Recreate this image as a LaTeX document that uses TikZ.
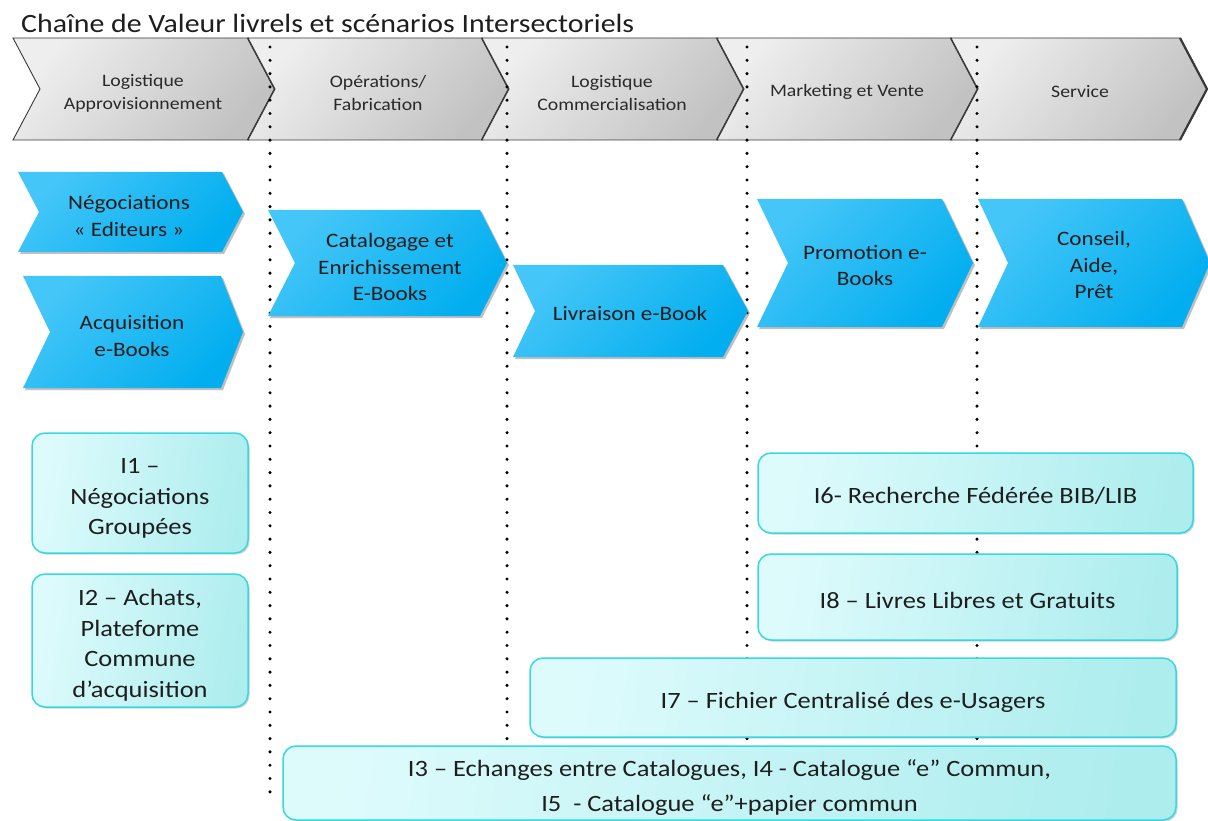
\documentclass[tikz,border=0pt]{standalone}
\usepackage{fontspec}
\setmainfont{Carlito}[FakeStretch=1.13]
\usetikzlibrary{shadows}
\definecolor{hdrL}{HTML}{EEEEEE}
\definecolor{hdrR}{HTML}{C2C2C2}
\definecolor{hdrD}{HTML}{383838}
\definecolor{blueL}{HTML}{45C6F8}
\definecolor{blueR}{HTML}{02AEEF}
\definecolor{cyL}{HTML}{DEFBFC}
\definecolor{cyR}{HTML}{AEEDEE}
\definecolor{cyB}{HTML}{36D8E2}
\definecolor{txt}{HTML}{1E1E1E}
\definecolor{hdrT}{HTML}{2A2A2A}
\newcommand\hdrchev[2]{%
  \path[hdrshape] (#1,38) -- (#2,38) -- ({#2+27},89) -- (#2,140) -- (#1,140) -- ({#1+27},89) -- cycle;
  \draw[hdredge] (#2,38) -- ({#2+27},89) -- (#2,140);}
\newcommand\bchev[6]{%
  \path[bshape] (#1,#2) -- (#3,#2) -- ({#3+#6},{(#2+#4)/2}) -- (#3,#4) -- (#1,#4) -- ({#1+#5},{(#2+#4)/2}) -- cycle;}
\begin{document}
\begin{tikzpicture}[x=1pt,y=-1pt,
  hdrshape/.style={draw=hdrD, line width=0.9pt, left color=hdrL, right color=hdrR, shading angle=50},
  hdredge/.style={draw=hdrD, line width=2.2pt, line join=round},
  hdrtxt/.style={font=\fontsize{17.5}{23}\selectfont, text=hdrT, align=center, inner sep=0pt},
  bshape/.style={left color=blueL, right color=blueR, shading angle=45,
    drop shadow={shadow xshift=2pt, shadow yshift=-2pt, opacity=0.25, fill=black}},
  btxt/.style={font=\fontsize{20.5}{26.5}\selectfont, text=txt, align=center, inner sep=0pt},
  cbox/.style={draw=cyB, line width=1.5pt, rounded corners=13pt, left color=cyL, right color=cyR,
    shading angle=80, inner sep=0pt,
    drop shadow={shadow xshift=1.5pt, shadow yshift=-1.5pt, opacity=0.18, fill=black}},
  ctxt/.style={font=\fontsize{23.4}{30.5}\selectfont, text=txt, align=center, inner sep=0pt},
  dotline/.style={draw=black, line width=3.4pt, line cap=round, dash pattern=on 0pt off 13.3pt}
]
\useasboundingbox (0,0) rectangle (1208,821);
% title
\node[anchor=base west, font=\fontsize{26.4}{30}\selectfont, text=txt, inner sep=0pt] (title) at (21,32.5) {Chaîne de Valeur livrels et scénarios Intersectoriels};
% header chevrons
\hdrchev{13}{248}
\hdrchev{248}{482}
\hdrchev{482}{717}
\hdrchev{717}{951}
\hdrchev{951}{1180}
\node[hdrtxt] (h1) at (143,93) {Logistique\\Approvisionnement};
\node[hdrtxt] (h2) at (378,93) {Opérations/\\Fabrication};
\node[hdrtxt] (h3) at (612,93) {Logistique\\Commercialisation};
\node[hdrtxt] (h4) at (847,92) {Marketing et Vente};
\node[hdrtxt] (h5) at (1080,92) {Service};
% dotted separators
\coordinate (d1t) at (270,47);  \coordinate (d1b) at (270,797);
\coordinate (d2t) at (507,47);  \coordinate (d2b) at (507,742);
\coordinate (d3t) at (747,47);  \coordinate (d3b) at (747,742);
\coordinate (d4t) at (977,47);  \coordinate (d4b) at (977,742);
\draw[dotline] (d1t) -- (d1b);
\draw[dotline] (d2t) -- (d2b);
\draw[dotline] (d3t) -- (d3b);
\draw[dotline] (d4t) -- (d4b);
% blue process chevrons
\bchev{18}{172}{222}{252}{21}{21}
\bchev{23}{276}{221}{388}{27}{22}
\bchev{268}{210}{480}{316}{27}{27}
\bchev{513}{265}{723}{357}{22}{25}
\bchev{757}{199}{942}{327}{31}{31}
\bchev{978}{199}{1182}{327}{30}{28}
\node[btxt] (nego) at (129,216) {Négociations\\« Editeurs »};
\node[btxt] (acq) at (132,336) {Acquisition\\e-Books};
\node[btxt] (cat) at (390,267) {Catalogage et\\Enrichissement\\E-Books};
\node[btxt] (liv) at (630,313) {Livraison e-Book};
\node[btxt] (promo) at (865,265.5) {Promotion e-\\Books};
\node[btxt] (cons) at (1094,265) {Conseil,\\Aide,\\Prêt};
% scenario boxes
\node[cbox, minimum width=216pt, minimum height=120pt] (i1) at (140,493) {};
\node[cbox, minimum width=216pt, minimum height=133pt] (i2) at (140,640.5) {};
\node[cbox, minimum width=435pt, minimum height=80pt] (i6) at (975.5,493) {};
\node[cbox, minimum width=419pt, minimum height=86pt] (i8) at (967.5,597) {};
\node[cbox, minimum width=646pt, minimum height=79pt] (i7) at (853,697.5) {};
\node[cbox, minimum width=893pt, minimum height=74pt] (i3) at (729.5,783) {};
\node[ctxt] (t1) at ([yshift=-5.5pt]i1.center) {I1 –\\Négociations\\Groupées};
\node[ctxt] (t2) at ([yshift=-5pt]i2.center) {I2 – Achats,\\Plateforme\\Commune\\d’acquisition};
\node[ctxt] (t6) at ([yshift=-3pt]i6.center) {I6- Recherche Fédérée BIB/LIB};
\node[ctxt] (t8) at ([yshift=-3pt]i8.center) {I8 – Livres Libres et Gratuits};
\node[ctxt] (t7) at ([yshift=-4.5pt]i7.center) {I7 – Fichier Centralisé des e-Usagers};
\node[ctxt, font=\fontsize{23.4}{35}\selectfont] (t3) at ([yshift=-5pt]i3.center) {I3 – Echanges entre Catalogues, I4 - Catalogue “e” Commun,\\I5\ \ - Catalogue “e”+papier commun};
\end{tikzpicture}
\end{document}
